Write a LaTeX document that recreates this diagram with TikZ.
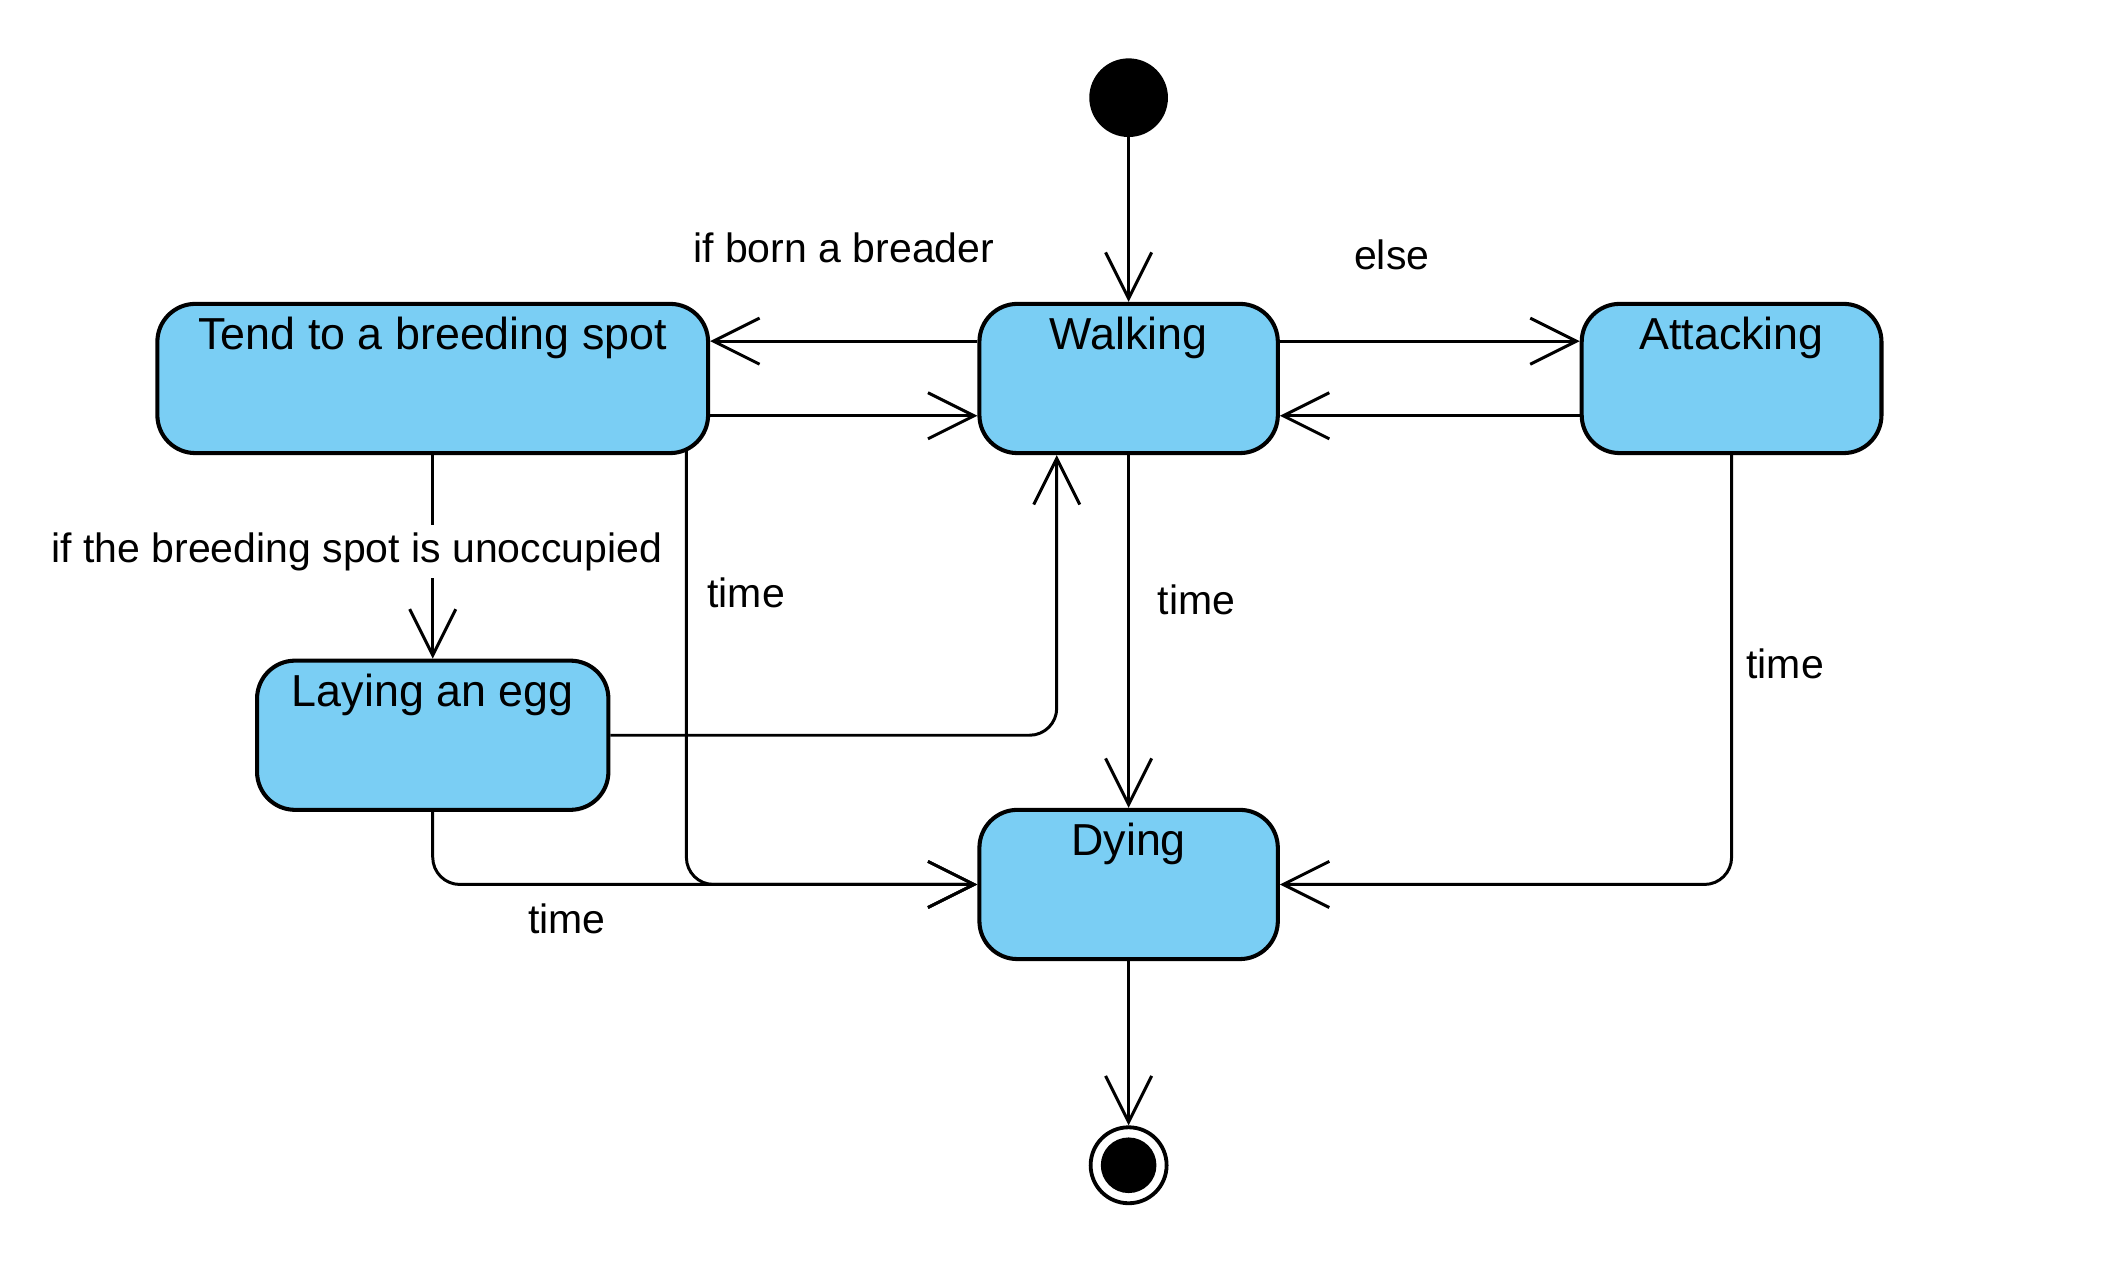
\documentclass[tikz,border=0pt]{standalone}
\usepackage{fontspec}
\setmainfont{Liberation Sans}
\usepackage{tikz}
\definecolor{white}{rgb}{1.0, 1.0, 1.0}
\definecolor{black}{rgb}{0.0, 0.0, 0.0}
\definecolor{skyfill}{RGB}{122,206,244}
\usetikzlibrary{arrows.meta}
\pgfdeclarelayer{edgelayer}
\pgfdeclarelayer{nodelayer}
\pgfsetlayers{edgelayer,nodelayer,main}
\tikzstyle{state}=[rectangle,rounded corners=0.56cm,fill=skyfill,draw=black,line width=1.7pt,inner sep=0pt,text height=0.67cm,text depth=1.53cm,font=\fontsize{18.8}{22}\selectfont]
\tikzstyle{start}=[circle,fill=black,minimum size=1.16cm,inner sep=0pt]
\tikzstyle{stop}=[circle,fill=white,draw=black,line width=1.6pt,minimum size=1.12cm,inner sep=0pt,path picture={\fill [black] (path picture bounding box.center) circle (0.41cm);}]
\tikzstyle{guard}=[inner sep=0pt,font=\fontsize{17.2}{20}\selectfont]
\tikzstyle{flow}=[->,line width=1.25pt]
\tikzset{>={Straight Barb[length=6.8mm,width=6.8mm]}}

\begin{document}
\begin{tikzpicture}
    \useasboundingbox (0, 0) rectangle (31.36, -18.72);
            \begin{pgfonlayer}{nodelayer}
            \node [style = start] (init) at (16.64, -1.44) {};

            \node [style = state, minimum width=8.12cm] (tend) at (6.38, -5.58) {Tend to a breeding spot};
            \node [style = state, minimum width=4.4cm] (walk) at (16.64, -5.58) {Walking};
            \node [style = state, minimum width=4.42cm] (attack) at (25.53, -5.58) {Attacking};

            \node [style = state, minimum width=5.18cm] (lay) at (6.38, -10.84) {Laying an egg};
            \node [style = state, minimum width=4.4cm] (dying) at (16.64, -13.04) {Dying};

            \node [style = stop] (final) at (16.64, -17.18) {};

            \node [style = guard] (g_breeder) at (12.44, -3.66) {if born a breader};
            \node [style = guard] (g_else) at (20.52, -3.76) {else};
            \node [style = guard, fill=white, inner ysep=3pt] (g_free) at (5.26, -8.13) {if the breeding spot is unoccupied};
            \node [style = guard] (g_tend) at (11.0, -8.74) {time};
            \node [style = guard] (g_walk) at (17.64, -8.84) {time};
            \node [style = guard] (g_attack) at (26.32, -9.78) {time};
            \node [style = guard] (g_lay) at (8.36, -13.54) {time};
            \end{pgfonlayer}

        \begin{pgfonlayer}{edgelayer}
            \draw [style = flow] (init) to (walk);

            \draw [style = flow] ([yshift=0.55cm]walk.west) to ([yshift=0.55cm]tend.east);
            \draw [style = flow] ([yshift=-0.55cm]tend.east) to ([yshift=-0.55cm]walk.west);
            \draw [style = flow] ([yshift=0.55cm]walk.east) to ([yshift=0.55cm]attack.west);
            \draw [style = flow] ([yshift=-0.55cm]attack.west) to ([yshift=-0.55cm]walk.east);

            \draw [style = flow] (tend) to (lay);
            \draw [style = flow, rounded corners=0.4cm] ([xshift=3.74cm]tend.center) |- (dying.west);
            \draw [style = flow, rounded corners=0.4cm] (lay.east) -| ([xshift=-1.06cm]walk.south);
            \draw [style = flow, rounded corners=0.4cm] (lay.south) |- (dying.west);

            \draw [style = flow] (walk) to (dying);
            \draw [style = flow, rounded corners=0.4cm] (attack.south) |- (dying.east);

            \draw [style = flow] (dying) to (final);
        \end{pgfonlayer}
    \end{tikzpicture}
\end{document}
